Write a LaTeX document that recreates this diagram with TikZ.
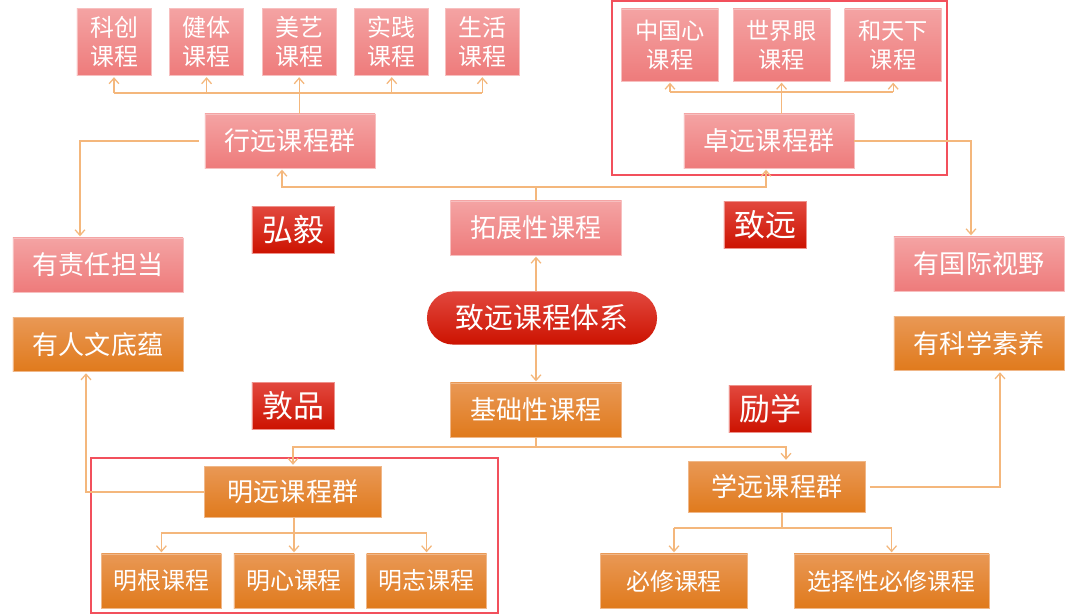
\documentclass[tikz,border=0pt]{standalone}
\usepackage{fontspec}
\newfontfamily\cjk{Noto Sans CJK SC}
\usetikzlibrary{positioning,arrows.meta}

\definecolor{pinktop}{HTML}{F4A3A3}
\definecolor{pinkbot}{HTML}{EE7B7B}
\definecolor{ortop}{HTML}{E99855}
\definecolor{orbot}{HTML}{E07A1C}
\definecolor{redtop}{HTML}{E2483E}
\definecolor{redbot}{HTML}{CC1200}
\definecolor{linkcol}{HTML}{F4B77C}
\definecolor{framecol}{HTML}{F2505C}

\tikzset{
  box/.style={rectangle, inner sep=0pt, text=white, align=center,
    font=\cjk\fontsize{18.5}{22}\selectfont},
  pinkbox/.style={box, top color=pinktop, bottom color=pinkbot, draw=pinktop!70!white, line width=0.4pt},
  orangebox/.style={box, top color=ortop, bottom color=orbot, draw=ortop!70!white, line width=0.4pt},
  groupsize/.style={minimum width=4.25cm, minimum height=1.35cm},
  midsize/.style={minimum width=4.275cm, minimum height=1.35cm},
  subsize/.style={minimum width=4.425cm, minimum height=1.275cm},
  topsize/.style={minimum width=1.85cm, minimum height=1.675cm,
    font=\cjk\fontsize{17}{20.5}\selectfont},
  wordsize/.style={minimum width=2.425cm, minimum height=1.8cm,
    font=\cjk\fontsize{16.5}{20.5}\selectfont},
  leafsize/.style={minimum width=3cm, minimum height=1.35cm,
    font=\cjk\fontsize{17}{20}\selectfont},
  tag/.style={box, top color=redtop, bottom color=redbot, draw=redtop!60!white, line width=0.4pt,
    minimum width=2.05cm, minimum height=1.175cm, font=\cjk\fontsize{22}{24}\selectfont},
  hub/.style={box, top color=redtop, bottom color=redbot, rounded corners=0.66cm,
    minimum width=5.75cm, minimum height=1.33cm, font=\cjk\fontsize{20.5}{24}\selectfont},
  link/.style={draw=linkcol, line width=0.9pt},
  arrow/.style={link, -{Straight Barb[length=4pt,width=7pt]}, shorten >=1pt},
  frame/.style={draw=framecol, line width=1.6pt}
}

\begin{document}
\begin{tikzpicture}[x=0.025cm, y=-0.025cm]
\useasboundingbox[fill=white] (0,0) rectangle (1080,615);

% centre
\node[hub] (xitong) at (542,318) {致远课程体系};
\node[pinkbox, midsize] (tuozhan) at (536,228) {拓展性课程};
\node[orangebox, midsize] (jichu) at (536,410) {基础性课程};

% 行远
\node[pinkbox, groupsize] (xingyuan) at (290,141) {行远课程群};
\node[pinkbox, topsize] (kechuang) at (114,42) {科创\\课程};
\node[pinkbox, topsize, right=0.45cm of kechuang] (jianti) {健体\\课程};
\node[pinkbox, topsize, right=0.45cm of jianti] (meiyi) {美艺\\课程};
\node[pinkbox, topsize, right=0.45cm of meiyi] (shijian) {实践\\课程};
\node[pinkbox, topsize, right=0.4cm of shijian] (shenghuo) {生活\\课程};

% 卓远
\node[pinkbox, groupsize] (zhuoyuan) at (769,141) {卓远课程群};
\node[pinkbox, wordsize] (zhongguo) at (670,45) {中国心\\课程};
\node[pinkbox, wordsize, right=0.35cm of zhongguo] (shijie) {世界眼\\课程};
\node[pinkbox, wordsize, right=0.35cm of shijie] (tianxia) {和天下\\课程};

% sides
\node[pinkbox, groupsize] (zeren) at (98,265) {有责任担当};
\node[pinkbox, groupsize] (guoji) at (979,264) {有国际视野};
\node[orangebox, groupsize, below=0.625cm of zeren] (renwen) {有人文底蕴};
\node[orangebox, groupsize, below=0.625cm of guoji] (kexue) {有科学素养};

% tags
\node[tag] (hongyi) at (293,230) {弘毅};
\node[tag] (zhiyuan) at (765,225) {致远};
\node[tag] (dunpin) at (293,406) {敦品};
\node[tag] (lixue) at (770,409) {励学};

% 明远
\node[orangebox, subsize] (mingyuan) at (293,492) {明远课程群};
\node[orangebox, leafsize] (mingxin) at (294,581) {明心课程};
\node[orangebox, leafsize, left=0.3cm of mingxin] (minggen) {明根课程};
\node[orangebox, leafsize, right=0.3cm of mingxin] (mingzhi) {明志课程};

% 学远
\node[orangebox, subsize] (xueyuan) at (777,487) {学远课程群};
\node[orangebox, leafsize, minimum width=3.675cm] (bixiu) at (674,581) {必修课程};
\node[orangebox, leafsize, minimum width=4.875cm, right=1.15cm of bixiu] (xuanze) {选择性必修课程};

% frames
\draw[frame] (612,1) rectangle (947,175);
\draw[frame] (91,458) rectangle (498,613);

% 行远 branch
\coordinate (xfork) at (300,93);
\draw[link] (xingyuan.north -| meiyi) -- (meiyi |- xfork);
\draw[link] (kechuang |- xfork) -- (shenghuo |- xfork);
\foreach \k in {kechuang,jianti,meiyi,shijian,shenghuo}
  \draw[arrow] (\k |- xfork) -- (\k.south);

% 卓远 branch
\coordinate (zfork) at (782,92);
\draw[link] (zhuoyuan.north -| shijie) -- (shijie |- zfork);
\draw[link] (zhongguo |- zfork) -- (tianxia |- zfork);
\foreach \k in {zhongguo,shijie,tianxia}
  \draw[arrow] (\k |- zfork) -- (\k.south);

% centre links
\coordinate (tfork) at (536,187);
\draw[arrow] (xitong.north -| tuozhan) -- (tuozhan.south);
\draw[arrow] (xitong.south -| jichu) -- (jichu.north);
\draw[link] (tuozhan.north) -- (tfork);
\draw[arrow] (tfork) -| ([xshift=-0.2cm]xingyuan.south);
\draw[arrow] (tfork) -| ([xshift=-0.075cm]zhuoyuan.south);
\coordinate (jfork) at (536,447);
\draw[link] (jichu.south) -- (jfork);
\draw[arrow] (jfork) -| (mingyuan.north);
\draw[arrow] (jfork) -| ([xshift=0.225cm]xueyuan.north);

% side links
\draw[arrow] ([xshift=-0.15cm]xingyuan.west) -| ([xshift=-0.45cm]zeren.north);
\draw[arrow] (zhuoyuan.east) -| ([xshift=-0.2cm]guoji.north);
\draw[arrow] (mingyuan.west) -| ([xshift=-0.3cm]renwen.south);
\draw[arrow] ([xshift=0.1cm]xueyuan.east) -| ([xshift=0.525cm]kexue.south);

% 明远 leaves
\coordinate (mfork) at (294,533);
\draw[link] (mingyuan.south -| mfork) -- (mfork);
\draw[link] (minggen |- mfork) -- (mingzhi |- mfork);
\foreach \k in {minggen,mingxin,mingzhi}
  \draw[arrow] (\k |- mfork) -- (\k.north);

% 学远 leaves
\coordinate (lfork) at (782,528);
\draw[link] (xueyuan.south -| lfork) -- (lfork);
\draw[link] (bixiu |- lfork) -- (xuanze |- lfork);
\foreach \k in {bixiu,xuanze}
  \draw[arrow] (\k |- lfork) -- (\k.north);
\end{tikzpicture}
\end{document}
